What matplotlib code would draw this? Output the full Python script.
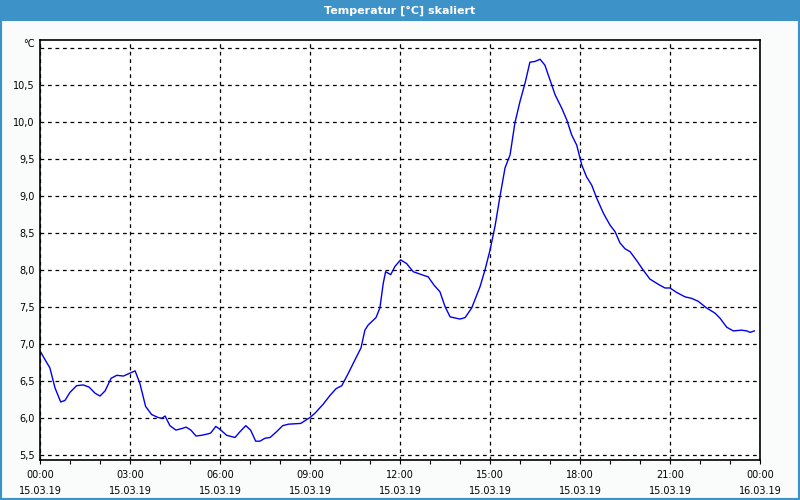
import matplotlib.pyplot as plt
from matplotlib.patches import Rectangle

# Данные: часы от 00:00 15.03.19 и температура
hours = [0.0, 0.17, 0.33, 0.5, 0.69, 0.83, 1.0, 1.22, 1.44, 1.64, 1.83, 2.0, 2.17, 2.37, 2.56,
         2.78, 3.0, 3.17, 3.33, 3.52, 3.72, 3.94, 4.06, 4.17, 4.33, 4.53, 4.72, 4.87, 5.03, 5.2,
         5.39, 5.61, 5.69, 5.86, 6.0, 6.22, 6.5, 6.67, 6.86, 7.02, 7.19, 7.33, 7.5, 7.67, 7.89,
         8.09, 8.28, 8.69, 9.0, 9.17, 9.44, 9.67, 9.87, 10.06, 10.28, 10.5, 10.7, 10.83, 10.94,
         11.2, 11.33, 11.44, 11.52, 11.69, 11.83, 12.02, 12.22, 12.44, 12.72, 12.94, 13.13, 13.33,
         13.5, 13.67, 14.0, 14.17, 14.39, 14.67, 14.83, 15.0, 15.17, 15.33, 15.5, 15.67, 15.83,
         16.0, 16.17, 16.33, 16.5, 16.67, 16.83, 17.0, 17.17, 17.39, 17.56, 17.72, 17.89, 18.06,
         18.22, 18.39, 18.56, 18.78, 19.0, 19.17, 19.33, 19.5, 19.67, 19.89, 20.11, 20.33, 20.61,
         20.83, 21.0, 21.22, 21.5, 21.72, 21.94, 22.22, 22.5, 22.67, 22.89, 23.11, 23.39, 23.56,
         23.67, 23.81]
temp = [6.91, 6.79, 6.68, 6.41, 6.22, 6.24, 6.35, 6.44, 6.45, 6.42, 6.34, 6.30, 6.37, 6.54, 6.58,
        6.57, 6.61, 6.64, 6.47, 6.16, 6.05, 6.01, 6.00, 6.03, 5.90, 5.84, 5.86, 5.88, 5.84, 5.76,
        5.77, 5.79, 5.80, 5.89, 5.85, 5.77, 5.74, 5.82, 5.90, 5.84, 5.69, 5.69, 5.73, 5.74, 5.82,
        5.90, 5.92, 5.93, 6.01, 6.07, 6.19, 6.31, 6.40, 6.44, 6.61, 6.79, 6.95, 7.19, 7.26,
        7.36, 7.49, 7.82, 7.98, 7.94, 8.05, 8.14, 8.09, 7.98, 7.94, 7.91, 7.80, 7.71,
        7.51, 7.37, 7.34, 7.36, 7.49, 7.78, 8.00, 8.27, 8.60, 8.99, 9.38, 9.56, 9.99,
        10.28, 10.53, 10.81, 10.82, 10.85, 10.77, 10.57, 10.37, 10.19, 10.03, 9.83, 9.69, 9.42,
        9.26, 9.15, 8.97, 8.77, 8.61, 8.52, 8.37, 8.29, 8.25, 8.13, 8.00, 7.88, 7.81,
        7.76, 7.76, 7.70, 7.64, 7.62, 7.58, 7.49, 7.42, 7.35, 7.23, 7.18, 7.19, 7.18,
        7.16, 7.18]

x_ticks = [0, 3, 6, 9, 12, 15, 18, 21, 24]
x_labels = ['00:00\n15.03.19', '03:00\n15.03.19', '06:00\n15.03.19', '09:00\n15.03.19',
            '12:00\n15.03.19', '15:00\n15.03.19', '18:00\n15.03.19', '21:00\n15.03.19',
            '00:00\n16.03.19']
y_ticks = [5.5, 6.0, 6.5, 7.0, 7.5, 8.0, 8.5, 9.0, 9.5, 10.0, 10.5, 11.0]
y_labels = ['5,5', '6,0', '6,5', '7,0', '7,5', '8,0', '8,5', '9,0', '9,5', '10,0', '10,5', '']
unit = '°C'

title = 'Temperatur [°C] skaliert'
blue = '#3d92c8'

fig = plt.figure(figsize=(8, 5), dpi=100, facecolor='#fafcfb')

# Заголовок в синей полосе и рамка окна
fig.patches.append(Rectangle((0, 0.958), 1, 0.042, transform=fig.transFigure,
                             facecolor=blue, edgecolor='none', zorder=0))
fig.patches.append(Rectangle((0, 0), 1, 1, transform=fig.transFigure,
                             facecolor='none', edgecolor=blue, linewidth=3, zorder=0))
fig.text(0.5, 0.979, title, color='white', fontsize=8, fontweight='bold',
         ha='center', va='center')

ax = fig.add_axes([0.05, 0.08, 0.90, 0.84])
ax.plot(hours, temp, color='#0000ee', linewidth=1)

ax.set_xlim(0, 24)
ax.set_ylim(5.436, 11.11)
ax.set_xticks(x_ticks)
ax.set_xticklabels(x_labels, fontsize=7, linespacing=1.75)
ax.set_xticks(range(25), minor=True)
ax.set_yticks(y_ticks)
ax.set_yticklabels(y_labels, fontsize=7)

# Единица измерения над верхней линией сетки
ax.annotate(unit, xy=(0, 11.0), xycoords=('axes fraction', 'data'),
            xytext=(-4, 3), textcoords='offset points', ha='right', va='center', fontsize=7)

ax.tick_params(axis='x', which='both', direction='out', length=3, width=0.8, pad=4)
ax.tick_params(axis='y', length=0, pad=4)
ax.grid(True, which='major', color='black', linestyle=(0, (3, 3)), linewidth=0.9)

for spine in ax.spines.values():
    spine.set_linewidth(1.2)

plt.savefig('out.png', dpi=100, facecolor=fig.get_facecolor())
